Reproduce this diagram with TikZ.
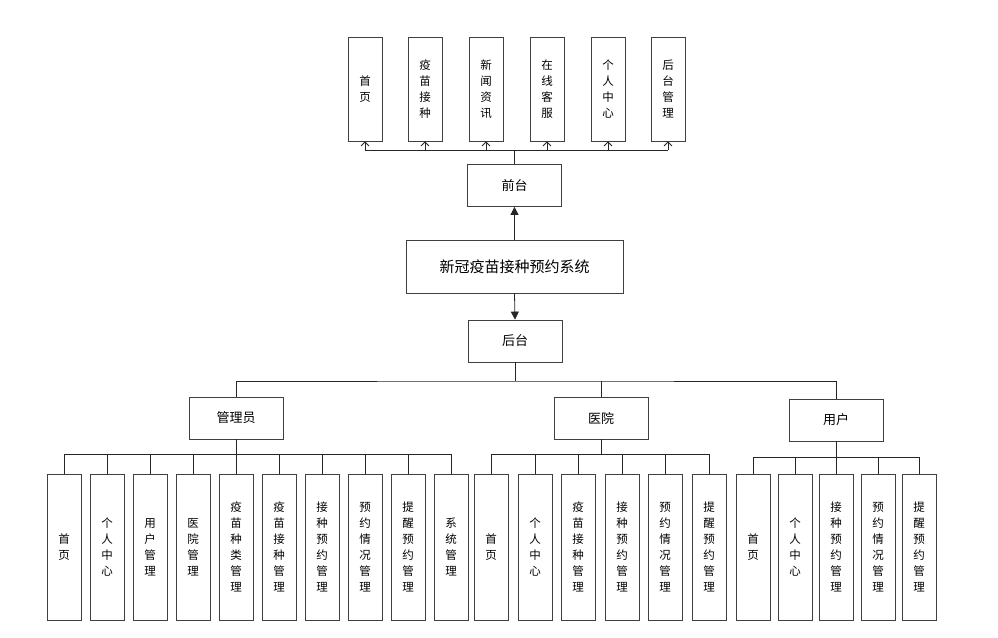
\documentclass[tikz,border=0pt]{standalone}
\usepackage{fontspec}
\setmainfont{Noto Sans CJK SC}
\usetikzlibrary{arrows.meta}
\begin{document}
\begin{tikzpicture}[x=1pt,y=-1pt,
 box/.style={draw=black!75,line width=0.8pt,fill=white,minimum width=94pt,minimum height=42pt,font=\fontsize{13}{15}\selectfont},
 vbox/.style={draw=black!75,line width=0.8pt,fill=white,minimum width=34pt,minimum height=#1,align=center,font=\fontsize{11.5}{16}\selectfont,inner sep=1pt},
 ln/.style={draw=black!85,line width=0.8pt}]
\useasboundingbox (0,0) rectangle (998,637);
% top
\foreach \x/\t/\n in {365/首\\页/t1,425/疫\\苗\\接\\种/t2,486/新\\闻\\资\\讯/t3,547/在\\线\\客\\服/t4,608/个\\人\\中\\心/t5,668/后\\台\\管\\理/t6}
 \node[vbox=104pt] (\n) at (\x,89) {\t};
\node[box] (qt) at (514.5,185.5) {前台};
\node[box,minimum width=217pt,minimum height=53pt,font=\fontsize{15}{17}\selectfont] (sys) at (514.5,266.5) {新冠疫苗接种预约系统};
\node[box] (ht) at (515,341) {后台};
\coordinate (tb) at (514.5,150);
\draw[ln,line width=1.6pt] (qt.north) -- (tb);
\draw[ln] (t1.south|-tb) -- (t6.south|-tb);
\foreach \n in {t1,t2,t3,t4,t5,t6}
 \draw[ln,-{Straight Barb[length=4pt,width=8pt]}] (\n.south|-tb) -- (\n.south);
\draw[ln,-{Triangle[length=8pt,width=8pt]}] (sys.north) -- (qt.south);
\draw[ln,-{Triangle[length=8pt,width=8pt]}] (sys.south) -- (ht.south|-ht.north);
% roles
\node[box] (gl) at (236,418) {管理员};
\node[box] (yy) at (601,418) {医院};
\node[box] (yh) at (836,420) {用户};
\coordinate (hb) at (515,381);
\draw[ln] (ht.south) -- (hb);
\draw[ln] (gl.north) |- (hb) -| (yh.north);
\draw[ln] (yy.north) -- (yy.north|-hb);
% admin children
\foreach \x/\t/\n in {64/首\\页/a1,107/个\\人\\中\\心/a2,150/用\\户\\管\\理/a3,193/医\\院\\管\\理/a4,236/疫\\苗\\种\\类\\管\\理/a5,279/疫\\苗\\接\\种\\管\\理/a6,322/接\\种\\预\\约\\管\\理/a7,365/预\\约\\情\\况\\管\\理/a8,408/提\\醒\\预\\约\\管\\理/a9,451/系\\统\\管\\理/a10}
 \node[vbox=146pt] (\n) at (\x,547) {\t};
\coordinate (ga) at (236,454);
\draw[ln] (gl.south) -- (ga);
\draw[ln] (a1.north|-ga) -- (a10.north|-ga);
\foreach \n in {a1,a2,a3,a4,a5,a6,a7,a8,a9,a10} \draw[ln] (\n.north|-ga) -- (\n.north);
% hospital children
\foreach \x/\t/\n in {491/首\\页/h1,535/个\\人\\中\\心/h2,578/疫\\苗\\接\\种\\管\\理/h3,622/接\\种\\预\\约\\管\\理/h4,665/预\\约\\情\\况\\管\\理/h5,709/提\\醒\\预\\约\\管\\理/h6}
 \node[vbox=146pt] (\n) at (\x,547) {\t};
\coordinate (ya) at (601,454);
\draw[ln] (yy.south) -- (ya);
\draw[ln] (h1.north|-ya) -- (h6.north|-ya);
\foreach \n in {h1,h2,h3,h4,h5,h6} \draw[ln] (\n.north|-ya) -- (\n.north);
% user children
\foreach \x/\t/\n in {753/首\\页/u1,795/个\\人\\中\\心/u2,836/接\\种\\预\\约\\管\\理/u3,878/预\\约\\情\\况\\管\\理/u4,919/提\\醒\\预\\约\\管\\理/u5}
 \node[vbox=146pt] (\n) at (\x,547) {\t};
\coordinate (ua) at (836,457);
\draw[ln] (yh.south) -- (ua);
\draw[ln] (u1.north|-ua) -- (u5.north|-ua);
\foreach \n in {u1,u2,u3,u4,u5} \draw[ln] (\n.north|-ua) -- (\n.north);
\end{tikzpicture}
\end{document}
